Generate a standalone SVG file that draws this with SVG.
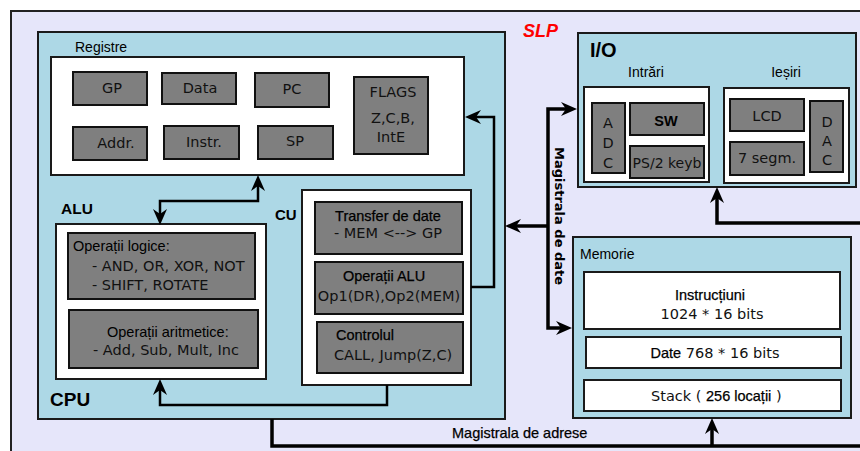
<svg xmlns="http://www.w3.org/2000/svg" width="860" height="451" viewBox="0 0 860 451">
<defs>
<marker id="ah" viewBox="0 0 16 14" refX="7" refY="7" markerWidth="16" markerHeight="14" markerUnits="userSpaceOnUse" orient="auto-start-reverse">
<path d="M0,0 L16,7 L0,14 L5,7 Z" fill="#000"/>
</marker>
<style>
.blue{fill:#add8e6;stroke:#1a1a1a;stroke-width:2}
.white{fill:#fff;stroke:#1a1a1a;stroke-width:2}
.gray{fill:#7f7f7f;stroke:#111;stroke-width:2}
.dv{font-family:"DejaVu Sans",sans-serif;font-size:14.5px;fill:#111}
.ls{font-family:"Liberation Sans",Arial,sans-serif;font-size:14.5px;fill:#000}
.lab{font-size:14px}
.md{stroke:#000;stroke-width:0.25}
.b{font-weight:bold}
.c{text-anchor:middle}
.con{fill:none;stroke:#000;stroke-width:2.5}
.bus{fill:none;stroke:#000;stroke-width:3.5}
</style>
</defs>
<rect x="0" y="0" width="860" height="451" fill="#fff"/>
<rect id="frame" x="11" y="11" width="900" height="500" fill="#e6e6fa" stroke="#222" stroke-width="2"/>
<text x="523" y="37" style="font-family:'Liberation Sans',Arial,sans-serif;font-size:18px;font-weight:bold;font-style:italic" fill="#ff0000">SLP</text>

<g id="cpu">
<rect class="blue" x="38" y="32" width="467" height="387"/>
<text class="ls b" x="50" y="406" style="font-size:19px">CPU</text>
</g>

<g id="registre">
<text class="ls lab" x="75" y="52">Registre</text>
<rect class="white" x="51" y="57" width="413" height="118"/>
<g id="reg-gp"><rect class="gray" x="73" y="72" width="74" height="33"/><text class="dv c" x="112" y="93">GP</text></g>
<g id="reg-data"><rect class="gray" x="162" y="73" width="74" height="31"/><text class="dv c" x="200" y="93">Data</text></g>
<g id="reg-pc"><rect class="gray" x="255" y="73" width="74" height="34"/><text class="dv c" x="292" y="94">PC</text></g>
<g id="reg-flags"><rect class="gray" x="354" y="77" width="74" height="77"/>
<text class="dv c" x="393" y="97">FLAGS</text><text class="dv c" x="393" y="123">Z,C,B,</text><text class="dv c" x="391" y="142">IntE</text></g>
<g id="reg-addr"><rect class="gray" x="73" y="127" width="74" height="33"/><text class="dv c" x="116" y="148">Addr.</text></g>
<g id="reg-instr"><rect class="gray" x="164" y="126" width="75" height="33"/><text class="dv c" x="204" y="147">Instr.</text></g>
<g id="reg-sp"><rect class="gray" x="258" y="126" width="75" height="33"/><text class="dv c" x="295" y="146">SP</text></g>
</g>

<g id="alu">
<text class="ls b" x="61" y="214" style="font-size:15.5px">ALU</text>
<rect class="white" x="56" y="224" width="210" height="155"/>
<g id="alu-logic"><rect class="gray" x="68" y="233" width="187" height="66"/>
<text class="ls" x="73" y="251">Operații logice:</text>
<text class="dv" x="92" y="271">- AND, OR, XOR, NOT</text>
<text class="dv" x="92" y="290">- SHIFT, ROTATE</text></g>
<g id="alu-arith"><rect class="gray" x="69" y="310" width="189" height="58"/>
<text class="ls" x="107" y="337">Operații aritmetice:</text>
<text class="dv" x="93" y="355">- Add, Sub, Mult, Inc</text></g>
</g>

<g id="cu">
<text class="ls b" x="275" y="220" style="font-size:15px">CU</text>
<rect class="white" x="302" y="190" width="169" height="195"/>
<g id="cu-transfer"><rect class="gray" x="315" y="202" width="147" height="52"/>
<text class="ls md c" x="388" y="221">Transfer de date</text>
<text class="dv c" x="388" y="238">- MEM &lt;--&gt; GP</text></g>
<g id="cu-opalu"><rect class="gray" x="315" y="262" width="148" height="52"/>
<text class="ls md c" x="384" y="281">Operații ALU</text>
<text class="dv c" x="389" y="301">Op1(DR),Op2(MEM)</text></g>
<g id="cu-control"><rect class="gray" x="317" y="322" width="146" height="51"/>
<text class="ls md" x="336" y="340">Controlul</text>
<text class="dv" x="334" y="360">CALL, Jump(Z,C)</text></g>
</g>

<g id="io">
<rect class="blue" x="578" y="33" width="278" height="154"/>
<text class="ls b" x="590" y="57" style="font-size:20px">I/O</text>
<text class="ls lab c" x="646" y="77">Intrări</text>
<text class="ls lab c" x="786" y="77">Ieșiri</text>
<g id="intrari"><rect class="white" x="584" y="87" width="125" height="95"/>
<g id="adc"><rect class="gray" x="592" y="103" width="33" height="70"/>
<text class="dv c" x="608" y="128">A</text><text class="dv c" x="608" y="148">D</text><text class="dv c" x="608" y="168">C</text></g>
<g id="sw"><rect class="gray" x="630" y="103" width="74" height="32"/><text class="ls b c" x="666" y="126">SW</text></g>
<g id="ps2"><rect class="gray" x="630" y="146" width="74" height="32"/><text class="dv c" x="667" y="168" style="font-size:14px">PS/2 keyb</text></g>
</g>
<g id="iesiri"><rect class="white" x="724" y="88" width="125" height="95"/>
<g id="lcd"><rect class="gray" x="730" y="99" width="74" height="32"/><text class="dv c" x="767" y="121">LCD</text></g>
<g id="seg"><rect class="gray" x="730" y="142" width="74" height="33"/><text class="dv c" x="767" y="163">7 segm.</text></g>
<g id="dac"><rect class="gray" x="810" y="101" width="33" height="71"/>
<text class="dv c" x="827" y="127">D</text><text class="dv c" x="827" y="146">A</text><text class="dv c" x="827" y="165">C</text></g>
</g>
</g>

<g id="memorie">
<rect class="blue" x="573" y="237" width="278" height="181"/>
<text class="ls lab" x="580" y="259">Memorie</text>
<g id="mem-instr"><rect class="white" x="584" y="272" width="256" height="57"/>
<text class="ls md c" x="710" y="300">Instrucțiuni</text>
<text class="dv c" x="712" y="319">1024 * 16 bits</text></g>
<g id="mem-date"><rect class="white" x="586" y="337" width="255" height="31"/>
<text class="c" x="715" y="358"><tspan class="ls md">Date</tspan><tspan class="dv"> 768 * 16 bits</tspan></text></g>
<g id="mem-stack"><rect class="white" x="584" y="380" width="257" height="31"/>
<text x="651" y="401"><tspan class="dv" fill="#333">Stack ( </tspan><tspan class="ls md">256 locații</tspan><tspan class="dv" fill="#333"> )</tspan></text></g>
</g>

<g id="connectors">
<path class="con" d="M160,216 V201 H258 V184" marker-start="url(#ah)" marker-end="url(#ah)"/>
<path class="con" d="M387,385 V405 H160 V388" marker-end="url(#ah)"/>
<path class="con" d="M471,287 H494 V117 H474" marker-end="url(#ah)"/>
<path class="bus" d="M568,109 H548 V328 H563" marker-start="url(#ah)" marker-end="url(#ah)"/>
<path class="bus" d="M548,226 H514" marker-end="url(#ah)"/>
<path class="bus" d="M862,223 H717 V196" marker-end="url(#ah)"/>
<path class="bus" d="M272,419 V446 H862"/>
<path class="bus" d="M712,446 V427" marker-end="url(#ah)"/>
<text x="0" y="0" style="font-family:'DejaVu Sans',sans-serif;font-size:13px;font-weight:bold" fill="#000" transform="translate(555,147) rotate(90)">Magistrala de date</text>
<text class="ls md" x="452" y="438">Magistrala de adrese</text>
</g>
</svg>
